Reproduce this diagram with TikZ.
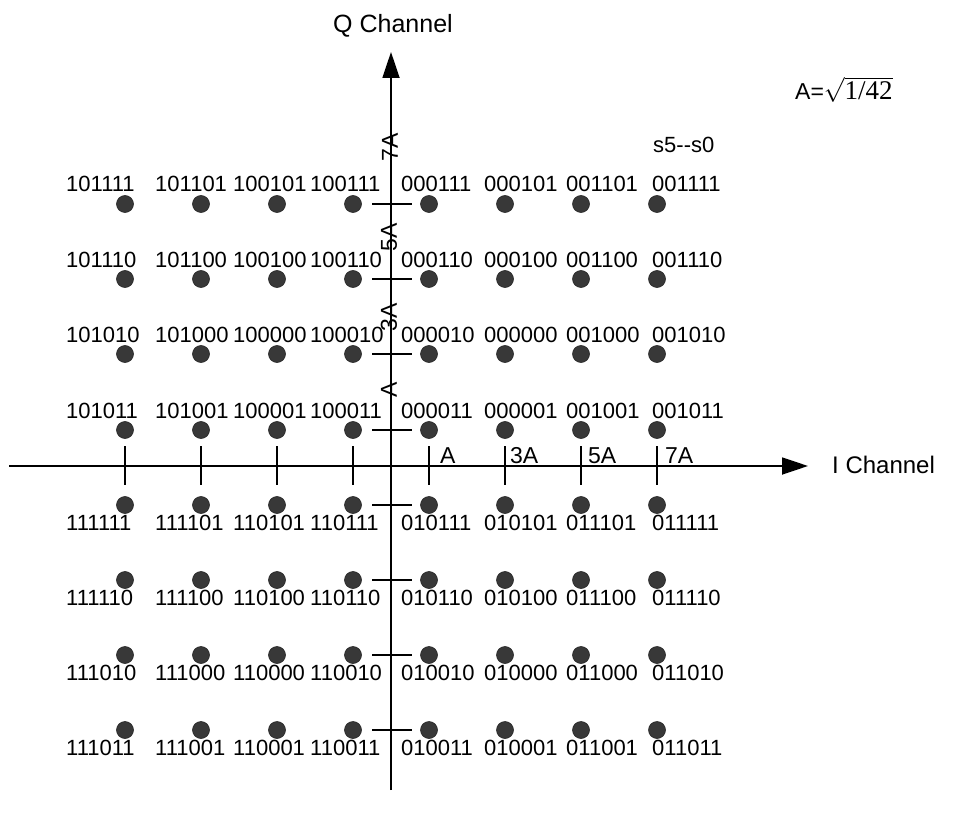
\documentclass[tikz,border=0pt]{standalone}
\usepackage{fontspec}
\setmainfont{Liberation Sans}
\newfontfamily\serifA{Liberation Serif}
\usetikzlibrary{arrows.meta}
\begin{document}
\begin{tikzpicture}[x=1pt,y=-1pt,
  axisline/.style={line width=1.8pt,-{Triangle[length=26pt,width=17pt]}},
  tickline/.style={line width=2pt},
  dot/.style={circle,fill=black!78,draw=black!85,line width=0.6pt,minimum size=17pt,inner sep=0pt},
  lab/.style={anchor=base west,inner sep=0pt,font=\fontsize{22}{24}\selectfont},
  axlab/.style={anchor=base west,inner sep=0pt,font=\fontsize{23}{25}\selectfont},
  vlab/.style={rotate=90,anchor=center,inner sep=0pt,font=\fontsize{23}{25}\selectfont},
  title/.style={inner sep=0pt,font=\fontsize{25}{28}\selectfont}]
\useasboundingbox (0,0) rectangle (956,813);
% axes
\coordinate (xl) at (9,466);
\coordinate (xr) at (808,466);
\coordinate (yb) at (391,790);
\coordinate (yt) at (391,52);
\draw[axisline] (xl) -- (xr);
\draw[axisline] (yb) -- (yt);
% ticks
\foreach \i in {0,...,7}{
  \draw[tickline] ({125+76*\i},446) -- ({125+76*\i},485);
}
\foreach \yv in {204,279,354,430,505,580,655,730}{
  \draw[tickline] (372,\yv) -- (412,\yv);
}
% constellation points and labels
\foreach \yy/\la/\lb/\lc/\ld/\le/\lf/\lg/\lh [count=\j from 0] in {
  204/101111/101101/100101/100111/000111/000101/001101/001111,
  279/101110/101100/100100/100110/000110/000100/001100/001110,
  354/101010/101000/100000/100010/000010/000000/001000/001010,
  430/101011/101001/100001/100011/000011/000001/001001/001011,
  505/111111/111101/110101/110111/010111/010101/011101/011111,
  580/111110/111100/110100/110110/010110/010100/011100/011110,
  655/111010/111000/110000/110010/010010/010000/011000/011010,
  730/111011/111001/110001/110011/010011/010001/011001/011011}{
  \pgfmathsetmacro\ly{\j<4 ? \yy-12 : \yy+25}
  \foreach \t/\lx [count=\i from 0] in {\la/66,\lb/155,\lc/233,\ld/310,\le/401,\lf/484,\lg/566,\lh/652}{
    \node[dot] (d\i\j) at ({125+76*\i},\yy) {};
    \node[lab] (l\i\j) at (\lx,\ly) {\t};
  }
}
% axis value labels
\node[axlab] (xa1) at (440,463) {A};
\node[axlab] (xa3) at (510,463) {3A};
\node[axlab] (xa5) at (588,463) {5A};
\node[axlab] (xa7) at (665,463) {7A};
\node[vlab] (ya7) at (390,147) {7A};
\node[vlab] (ya5) at (389,237) {5A};
\node[vlab] (ya3) at (389,317) {3A};
\node[vlab] (ya1) at (389,390) {A};
% titles
\node[title,anchor=base] (qch) at (393,33) {Q Channel};
\node[title,anchor=base west,font=\fontsize{24}{26}\selectfont] (ich) at (832,473) {I Channel};
\node[lab] (sx) at (653,153) {s5-{}-s0};
\node[anchor=base west,inner sep=0pt,font=\fontsize{23}{26}\selectfont] (aeq) at (795,100) {A=$\sqrt{\mbox{\serifA\fontsize{27}{30}\selectfont 1/42}}$};
\end{tikzpicture}
\end{document}
